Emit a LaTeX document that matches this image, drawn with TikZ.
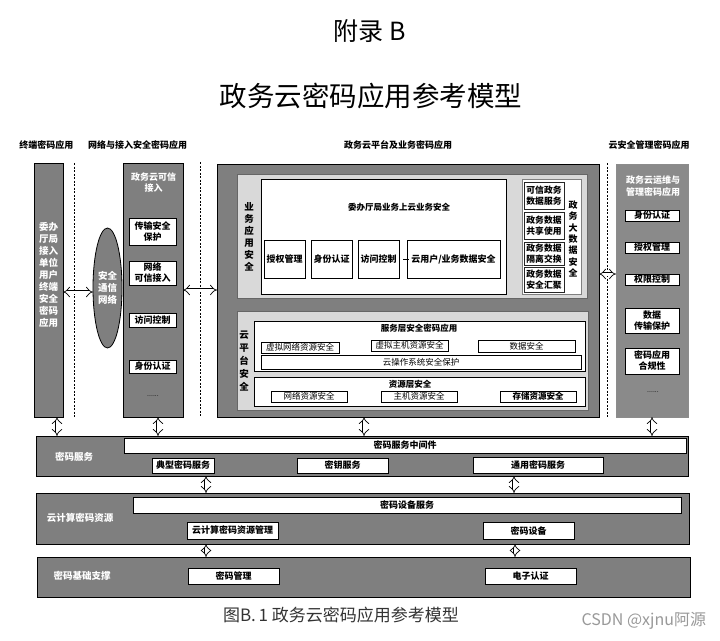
\documentclass[tikz,border=0pt]{standalone}
\usepackage{fontspec}
\setmainfont{Noto Sans CJK SC}
\usetikzlibrary{arrows.meta,shapes.geometric,fit}
\newcommand\myfs[2]{\fontsize{#1}{#2}\selectfont}
\newcommand\mybox[7]{\node[#1, fit={(#2,#3) (#4,#5)}] (#6) {};
  \node[#1, draw=none, fill=none] (#6t) at (#6.center) {#7};}
\definecolor{dkg}{HTML}{7F7F7F}
\definecolor{rtg}{HTML}{8A8A8A}
\definecolor{ltg}{HTML}{D9D9D9}
\tikzset{
  every node/.style={inner sep=0pt, outer sep=0pt},
  dk/.style={draw=black, fill=dkg, line width=0.8pt},
  rb/.style={draw=black!45, fill=rtg, line width=1pt},
  lp/.style={draw=black!60, fill=ltg, line width=0.6pt},
  wb/.style={draw=black, fill=white, line width=0.7pt, font=\bfseries\myfs{9}{11}, align=center, text=black},
  wbg/.style={draw=black!50, fill=white, line width=0.6pt},
  dbx/.style={draw=black!85, fill=white, line width=1pt, font=\bfseries\myfs{8.8}{11}, align=center},
  sb/.style={draw=black, fill=white, line width=0.6pt, font=\myfs{8.5}{10}, align=center},
  sbb/.style={sb, font=\bfseries\myfs{8.5}{10}},
  wtxt/.style={text=white, font=\bfseries\myfs{9.5}{12}, align=center},
  btxt/.style={text=black, font=\bfseries\myfs{8.5}{10}},
  vt/.style={text=black, font=\bfseries\myfs{9.5}{12}, align=center},
  hdr/.style={text=black, font=\bfseries\myfs{9}{11}},
  dotsx/.style={font=\myfs{7}{8}},
  sep/.style={draw=black, line width=0.6pt, dash pattern=on 2pt off 1.5pt},
  dbl/.style={double=white, double distance=3pt, line width=0.7pt, {Implies[length=4.5pt,width=10pt]}-{Implies[length=4.5pt,width=10pt]}},
}
\begin{document}
\begin{tikzpicture}[x=1pt,y=-1pt]
\fill[white] (0,0) rectangle (720,640);
\useasboundingbox (0,0) rectangle (720,640);

% titles
\node[font=\myfs{25}{30}] (t1) at (370,31) {附录 B};
\node[font=\myfs{27.5}{33}] (t2) at (371,96) {政务云密码应用参考模型};
\node[hdr] (h1) at (46.5,145) {终端密码应用};
\node[hdr] (h2) at (137.5,145) {网络与接入安全密码应用};
\node[hdr] (h3) at (398,145) {政务云平台及业务密码应用};
\node[hdr] (h4) at (649,145) {云安全管理密码应用};

% separators
\draw[sep] (74,163) -- (74,418);
\draw[sep] (200,162) -- (200,416);
\draw[sep] (607,163) -- (607,417);

% terminal column
\mybox{dk}{34}{163}{63}{417}{lft}{}
\node[wtxt] (lfttxt) at (48.5,275) {委办\\厅局\\接入\\单位\\用户\\终端\\安全\\密码\\应用};

% secure network ellipse
\node[ellipse, dk, minimum width=29pt, minimum height=120pt, wtxt] (ell) at (107.5,288) {安全\\通信\\网络};

% network access column
\mybox{dk}{123}{163}{183}{417}{net}{}
\node[wtxt, font=\bfseries\myfs{9}{11}] (nettitle) at (153.5,182.5) {政务云可信\\接入};
\mybox{wb}{129}{218}{176}{245}{n1}{传输安全\\保护}
\mybox{wb}{129}{261}{176}{285}{n2}{网络\\可信接入}
\mybox{wb}{129}{313}{176}{327}{n3}{访问控制}
\mybox{wb}{129}{360}{176}{373}{n4}{身份认证}
\node[dotsx] (ndots) at (153,396) {......};

% platform column
\mybox{dk}{217}{164}{599}{417}{main}{}
\mybox{lp}{237}{174}{587}{298}{p1}{}
\node[vt] (p1lab) at (249,237) {业\\务\\应\\用\\安\\全};
\mybox{wb}{261}{179}{506}{294}{biz}{}
\node[btxt] (biztitle) at (399,207) {委办厅局业务上云业务安全};
\mybox{wb}{264}{240}{305}{278}{b1}{授权管理}
\mybox{wb}{311}{240}{352}{278}{b2}{身份认证}
\mybox{wb}{358}{240}{399}{278}{b3}{访问控制}
\mybox{wb}{407}{240}{500}{278}{b4}{云用户/业务数据安全}
\draw[line width=1pt] (b4.west) ++(-4,0) -- ++(6,0);
\mybox{wbg}{522}{179}{581}{294}{bd}{}
\mybox{dbx}{524}{182}{564}{209}{d1}{可信政务\\数据服务}
\mybox{dbx}{524}{212}{564}{239}{d2}{政务数据\\共享使用}
\mybox{dbx}{524}{242}{564}{265}{d3}{政务数据\\隔离交换}
\mybox{dbx}{524}{267}{564}{292}{d4}{政务数据\\安全汇聚}
\node[vt, font=\bfseries\myfs{9}{11.3}] (bdlab) at (573,239) {政\\务\\大\\数\\据\\安\\全};

\mybox{lp}{237}{311}{588}{410}{p2}{}
\node[vt, font=\bfseries\myfs{9.5}{13}] (p2lab) at (244,361) {云\\平\\台\\安\\全};
\mybox{wb}{254}{321}{585}{371}{svl}{}
\node[btxt] (svltitle) at (419,328) {服务层安全密码应用};
\mybox{sb}{261}{342}{339}{353}{s1}{虚拟网络资源安全}
\mybox{sb}{371}{340}{448}{351}{s2}{虚拟主机资源安全}
\mybox{sb}{478}{340}{575}{352}{s3}{数据安全}
\mybox{sb}{261}{355}{581}{369}{s4}{云操作系统安全保护}
\mybox{wb}{254}{377}{585}{406}{rsl}{}
\node[btxt] (rsltitle) at (410,384) {资源层安全};
\mybox{sb}{271}{391}{347}{402}{r1}{网络资源安全}
\mybox{sb}{381}{391}{457}{402}{r2}{主机资源安全}
\mybox{sbb}{500}{391}{576}{402}{r3}{存储资源安全}

% management column
\mybox{rb}{616}{164}{688}{417}{rgt}{}
\node[wtxt, font=\bfseries\myfs{9}{12}] (rgttitle) at (653,186) {政务云运维与\\管理密码应用};
\mybox{wb}{625}{210}{679}{221}{m1}{身份认证}
\mybox{wb}{625}{242}{679}{253}{m2}{授权管理}
\mybox{wb}{625}{274}{679}{285}{m3}{权限控制}
\mybox{wb}{625}{308}{679}{333}{m4}{数据\\传输保护}
\mybox{wb}{625}{348}{679}{374}{m5}{密码应用\\合规性}
\node[dotsx] (mdots) at (653,392) {......};

% crypto service layer
\mybox{dk}{36}{436}{688}{476}{svc}{}
\node[wtxt] (svclab) at (74,457) {密码服务};
\mybox{wb}{124}{438}{686}{453}{mw}{密码服务中间件}
\mybox{wb}{152}{458}{214}{473}{c1}{典型密码服务}
\mybox{wb}{297}{458}{388}{473}{c2}{密钥服务}
\mybox{wb}{473}{457}{603}{473}{c3}{通用密码服务}

% cloud crypto resources
\mybox{dk}{36}{493}{689}{544}{res}{}
\node[wtxt] (reslab) at (80,518) {云计算密码资源};
\mybox{wb}{133}{497}{681}{513}{ds}{密码设备服务}
\mybox{wb}{187}{522}{278}{539}{rm}{云计算密码资源管理}
\mybox{wb}{483}{522}{574}{539}{dev}{密码设备}

% base support
\mybox{dk}{37}{557}{690}{597}{base}{}
\node[wtxt] (baselab) at (82,576) {密码基础支撑};
\mybox{wb}{188}{568}{279}{584}{km}{密码管理}
\mybox{wb}{485}{568}{576}{584}{ea}{电子认证}

% arrows
\draw[dbl] (lft.east |- 0,292) -- (ell.west |- 0,292);
\draw[dbl] (net.east |- 0,290) -- (main.west |- 0,290);
\draw[dbl] (main.east |- 0,274) -- (rgt.west |- 0,274);
\draw[dbl] (lft.south -| 57,0) -- (svc.north -| 57,0);
\draw[dbl] (net.south -| 158,0) -- (svc.north -| 158,0);
\draw[dbl] (main.south -| 364,0) -- (svc.north -| 364,0);
\draw[dbl] (rgt.south -| 652,0) -- (svc.north -| 652,0);
\draw[dbl] (svc.south -| 206,0) -- (res.north -| 206,0);
\draw[dbl] (svc.south -| 514,0) -- (res.north -| 514,0);
\draw[dbl] (res.south -| 206,0) -- (base.north -| 206,0);
\draw[dbl] (res.south -| 515,0) -- (base.north -| 515,0);

% caption and watermark
\node[anchor=west, font=\myfs{17}{20}, text=black!80] (cap) at (223,615) {图B.\,1\ 政务云密码应用参考模型};
\node[anchor=east, font=\myfs{16}{18}, text=black!40] (wm) at (706,621) {CSDN @xjnu阿源};
\end{tikzpicture}
\end{document}
